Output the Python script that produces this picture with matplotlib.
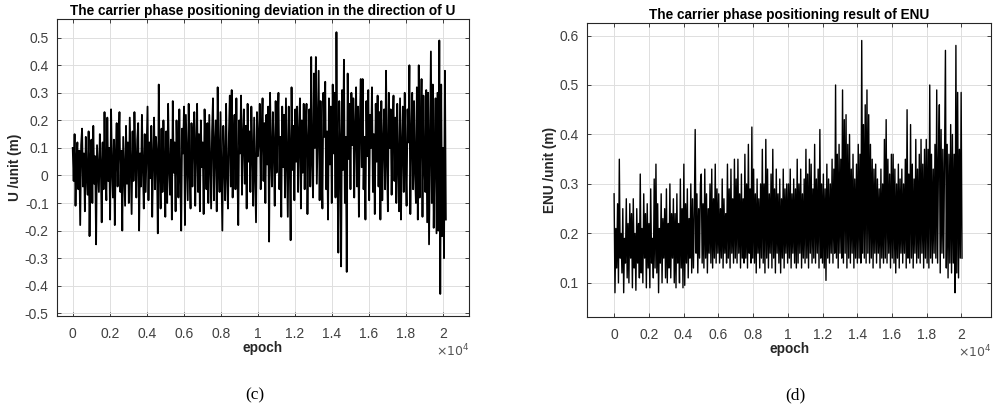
import numpy as np
import matplotlib
matplotlib.use('Agg')
import matplotlib.pyplot as plt
from matplotlib import ticker as mticker

plt.rcParams['font.family'] = ['Liberation Sans', 'DejaVu Sans']

# U deviation (m), 10 readings per 500 epochs
u_dev = [
	0.10, -0.02, 0.15, -0.11, 0.06, 0.12, -0.05, 0.09, -0.18, 0.11,
	0.17, -0.04, 0.08, -0.13, 0.14, 0.00, -0.07, 0.16, -0.22, 0.05,
	0.13, -0.10, 0.18, -0.03, 0.07, -0.25, 0.11, 0.02, -0.06, 0.15,
	0.04, -0.17, 0.12, -0.05, 0.23, 0.01, -0.09, 0.21, -0.02, 0.10,
	-0.16, 0.24, 0.03, -0.08, 0.13, -0.18, 0.07, 0.19, -0.04, 0.11,
	0.23, -0.06, 0.09, -0.20, 0.14, 0.02, -0.11, 0.18, -0.03, 0.12,
	-0.10, 0.21, 0.04, -0.14, 0.16, -0.02, 0.23, 0.06, -0.08, 0.13,
	0.19, -0.20, 0.08, -0.04, 0.22, 0.03, -0.12, 0.15, -0.06, 0.10,
	0.25, -0.09, 0.12, -0.01, 0.18, -0.15, 0.06, 0.21, -0.05, 0.14,
	0.07, -0.21, 0.33, 0.02, -0.12, 0.17, -0.06, 0.20, 0.04, -0.15,
	0.16, -0.10, 0.26, 0.03, -0.07, 0.13, -0.16, 0.27, 0.01, 0.12,
	-0.13, 0.20, 0.05, -0.08, 0.24, 0.00, -0.20, 0.17, 0.08, 0.25,
	-0.18, 0.22, 0.06, -0.09, 0.26, 0.02, -0.12, 0.19, -0.04, 0.14,
	0.23, -0.11, 0.10, 0.26, -0.06, 0.15, -0.13, 0.20, 0.03, 0.12,
	-0.14, 0.24, 0.07, -0.05, 0.19, -0.10, 0.22, 0.04, -0.12, 0.16,
	0.28, -0.09, 0.11, 0.20, -0.13, 0.32, 0.05, -0.06, 0.23, 0.02,
	-0.20, 0.18, 0.06, -0.09, 0.26, 0.01, -0.12, 0.15, 0.29, -0.04,
	0.31, -0.08, 0.12, 0.22, -0.05, 0.28, 0.03, -0.18, 0.20, 0.08,
	0.29, -0.07, 0.14, 0.24, -0.03, 0.18, -0.12, 0.26, 0.05, 0.16,
	-0.06, 0.25, 0.09, -0.11, 0.21, 0.02, -0.17, 0.23, 0.07, 0.13,
	0.26, -0.05, 0.15, 0.28, -0.02, 0.19, -0.10, 0.22, 0.04, 0.25,
	-0.24, 0.30, 0.08, -0.04, 0.23, 0.10, -0.11, 0.27, 0.01, 0.18,
	0.30, -0.05, 0.14, -0.15, 0.25, 0.03, 0.22, -0.08, 0.28, 0.06,
	-0.15, 0.25, 0.09, -0.235, 0.32, 0.02, 0.18, -0.09, 0.24, 0.05,
	0.25, -0.06, 0.15, 0.28, -0.12, 0.20, 0.01, 0.26, -0.05, 0.17,
	0.26, -0.14, 0.12, 0.24, -0.04, 0.43, 0.05, -0.08, 0.37, 0.10,
	0.43, -0.03, 0.18, 0.38, -0.09, 0.27, 0.06, -0.12, 0.30, 0.14,
	0.34, -0.05, 0.16, -0.16, 0.28, 0.04, 0.25, -0.10, 0.33, 0.08,
	0.30, -0.08, 0.52, 0.05, -0.28, 0.27, 0.12, -0.33, 0.31, 0.02,
	0.42, -0.10, 0.14, -0.35, 0.37, 0.06, 0.26, -0.05, 0.30, 0.11,
	0.28, -0.08, 0.17, 0.32, -0.04, 0.25, -0.15, 0.19, 0.35, 0.03,
	0.35, -0.05, 0.14, -0.16, 0.27, 0.07, 0.31, -0.09, 0.22, 0.10,
	0.32, -0.06, 0.15, -0.14, 0.26, 0.05, 0.29, -0.04, 0.23, -0.16,
	0.27, -0.09, 0.12, 0.24, -0.05, 0.38, 0.06, -0.13, 0.30, 0.10,
	0.24, -0.07, 0.16, 0.29, -0.02, 0.21, -0.10, 0.26, 0.04, -0.13,
	0.28, -0.16, 0.10, 0.25, -0.06, 0.30, 0.05, -0.11, 0.24, 0.12,
	0.40, -0.14, 0.13, 0.30, -0.05, 0.27, 0.02, -0.10, 0.32, -0.16,
	0.40, -0.08, 0.15, 0.35, -0.15, 0.29, 0.04, -0.06, 0.31, -0.17,
	0.30, -0.25, 0.12, 0.45, -0.10, 0.33, -0.19, 0.08, 0.28, -0.21,
	0.30, -0.20, 0.49, -0.43, 0.33, -0.22, 0.10, -0.30, 0.38, -0.16,
]

# ENU result (m), same sampling
enu_res = [
	0.28, 0.08, 0.21, 0.13, 0.26, 0.10, 0.35, 0.15, 0.20, 0.12,
	0.25, 0.08, 0.19, 0.14, 0.27, 0.11, 0.22, 0.10, 0.26, 0.15,
	0.24, 0.09, 0.27, 0.13, 0.20, 0.085, 0.25, 0.14, 0.22, 0.11,
	0.32, 0.12, 0.21, 0.10, 0.28, 0.15, 0.24, 0.09, 0.26, 0.13,
	0.22, 0.09, 0.29, 0.14, 0.19, 0.11, 0.31, 0.13, 0.34, 0.12,
	0.26, 0.08, 0.21, 0.14, 0.28, 0.10, 0.23, 0.15, 0.25, 0.11,
	0.29, 0.10, 0.22, 0.13, 0.30, 0.11, 0.24, 0.15, 0.27, 0.10,
	0.24, 0.09, 0.28, 0.14, 0.22, 0.10, 0.31, 0.13, 0.25, 0.09,
	0.34, 0.095, 0.26, 0.14, 0.29, 0.11, 0.23, 0.15, 0.30, 0.12,
	0.27, 0.13, 0.24, 0.41, 0.16, 0.28, 0.12, 0.25, 0.15, 0.30,
	0.32, 0.14, 0.26, 0.13, 0.33, 0.15, 0.28, 0.12, 0.25, 0.16,
	0.30, 0.14, 0.33, 0.13, 0.27, 0.15, 0.34, 0.14, 0.29, 0.16,
	0.28, 0.14, 0.25, 0.15, 0.31, 0.13, 0.27, 0.16, 0.24, 0.14,
	0.34, 0.15, 0.29, 0.13, 0.33, 0.16, 0.27, 0.14, 0.35, 0.15,
	0.31, 0.14, 0.35, 0.16, 0.28, 0.13, 0.32, 0.15, 0.27, 0.14,
	0.36, 0.15, 0.30, 0.13, 0.38, 0.16, 0.29, 0.14, 0.415, 0.15,
	0.33, 0.14, 0.28, 0.12, 0.31, 0.16, 0.27, 0.13, 0.30, 0.15,
	0.37, 0.14, 0.30, 0.12, 0.39, 0.15, 0.33, 0.13, 0.28, 0.16,
	0.32, 0.13, 0.37, 0.15, 0.29, 0.12, 0.33, 0.16, 0.28, 0.14,
	0.31, 0.12, 0.27, 0.15, 0.33, 0.13, 0.29, 0.16, 0.30, 0.14,
	0.30, 0.15, 0.33, 0.13, 0.28, 0.16, 0.31, 0.14, 0.29, 0.13,
	0.35, 0.14, 0.30, 0.16, 0.33, 0.13, 0.28, 0.15, 0.31, 0.14,
	0.37, 0.15, 0.32, 0.13, 0.35, 0.16, 0.34, 0.14, 0.29, 0.15,
	0.38, 0.14, 0.31, 0.16, 0.33, 0.13, 0.41, 0.15, 0.30, 0.14,
	0.32, 0.13, 0.29, 0.105, 0.34, 0.15, 0.31, 0.14, 0.30, 0.16,
	0.35, 0.14, 0.33, 0.16, 0.50, 0.15, 0.36, 0.13, 0.38, 0.16,
	0.35, 0.15, 0.49, 0.14, 0.43, 0.16, 0.44, 0.13, 0.38, 0.15,
	0.40, 0.14, 0.33, 0.16, 0.36, 0.13, 0.31, 0.15, 0.34, 0.14,
	0.38, 0.15, 0.36, 0.14, 0.59, 0.16, 0.42, 0.15, 0.46, 0.14,
	0.49, 0.16, 0.44, 0.14, 0.38, 0.15, 0.35, 0.13, 0.33, 0.16,
	0.34, 0.14, 0.31, 0.16, 0.29, 0.13, 0.33, 0.15, 0.30, 0.14,
	0.39, 0.15, 0.43, 0.14, 0.35, 0.16, 0.32, 0.13, 0.36, 0.15,
	0.36, 0.14, 0.33, 0.12, 0.30, 0.15, 0.34, 0.13, 0.31, 0.16,
	0.33, 0.14, 0.30, 0.16, 0.35, 0.13, 0.45, 0.15, 0.32, 0.14,
	0.42, 0.15, 0.34, 0.13, 0.31, 0.16, 0.39, 0.14, 0.33, 0.15,
	0.36, 0.14, 0.39, 0.16, 0.34, 0.13, 0.37, 0.15, 0.39, 0.14,
	0.37, 0.13, 0.50, 0.15, 0.36, 0.14, 0.33, 0.16, 0.38, 0.15,
	0.49, 0.14, 0.35, 0.46, 0.12, 0.41, 0.16, 0.37, 0.15, 0.36,
	0.57, 0.13, 0.38, 0.11, 0.36, 0.14, 0.42, 0.12, 0.40, 0.14,
	0.36, 0.08, 0.58, 0.12, 0.485, 0.11, 0.37, 0.15, 0.485, 0.15,
]

u_end = 20150
enu_end = 20030
xtick_vals = np.arange(0, 20001, 2000)
xtick_labels = ['0', '0.2', '0.4', '0.6', '0.8', '1', '1.2', '1.4', '1.6', '1.8', '2']


def fmt_y(v, p):
	return '%g' % (round(v, 2) + 0.0)


def style_axes(ax, yticks, ylab, title):
	ax.set_xticks(xtick_vals)
	ax.set_xticklabels(xtick_labels)
	ax.set_yticks(yticks)
	ax.yaxis.set_major_formatter(mticker.FuncFormatter(fmt_y))
	ax.grid(True, color='#dedede', linewidth=0.7)
	ax.set_axisbelow(True)
	ax.tick_params(direction='in', top=True, right=True, length=3, width=0.6,
				   labelsize=10, labelcolor='#404040', color='#262626')
	ax.tick_params(axis='x', pad=8)
	ax.tick_params(axis='y', pad=6)
	for s in ax.spines.values():
		s.set_color('#262626')
		s.set_linewidth(0.8)
	ax.set_title(title, fontsize=9.8, fontweight='bold', pad=3)
	ax.set_xlabel('epoch', fontsize=9.8, fontweight='bold', labelpad=0, color='#262626')
	ax.set_ylabel(ylab, fontsize=9.8, fontweight='bold', labelpad=2, color='#262626')
	ax.text(1.0, -0.118, r'$\times10^4$', transform=ax.transAxes, ha='right', va='center',
			fontsize=9, color='#555555')


fig = plt.figure(figsize=(9.96, 4.16), dpi=100)

ax1 = fig.add_axes([0.0572, 0.2404, 0.4137, 0.714])
x1 = np.linspace(0, u_end, len(u_dev))
ax1.plot(x1, u_dev, color='k', linewidth=1.3)
ax1.set_xlim(-850, 21400)
ax1.set_ylim(-0.51, 0.568)
style_axes(ax1, np.arange(-0.5, 0.51, 0.1), 'U /unit (m)',
		   'The carrier phase positioning deviation in the direction of U')

ax2 = fig.add_axes([0.5897, 0.238, 0.4053, 0.7075])
x2 = np.linspace(0, enu_end, len(enu_res))
ax2.plot(x2, enu_res, color='k', linewidth=1.0)
ax2.set_xlim(-1540, 21700)
ax2.set_ylim(0.031, 0.626)
style_axes(ax2, np.arange(0.1, 0.61, 0.1), 'ENU /unit (m)',
		   'The carrier phase positioning result of ENU')

fig.text(255 / 996, 1 - 395 / 416, '(c)', family='Liberation Serif', fontsize=12.5,
		 ha='center', va='center')
fig.text(795 / 996, 1 - 395 / 416, '(d)', family='Liberation Serif', fontsize=12.5,
		 ha='center', va='center')

plt.savefig('out.png', dpi=100)
plt.close('all')
